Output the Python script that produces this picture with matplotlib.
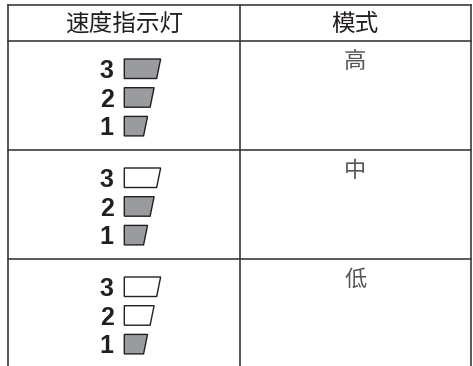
import matplotlib
matplotlib.use("Agg")
import matplotlib.pyplot as plt
from matplotlib.patches import Polygon

# ---- data ----
headers = ["速度指示灯", "模式"]
modes = ["高", "中", "低"]
speed_levels = [3, 2, 1]
# lit state of indicators (for speed levels 3, 2, 1) per mode
lit = [
    [1, 1, 1],
    [0, 1, 1],
    [0, 0, 1],
]

W, H = 473, 366
fig = plt.figure(figsize=(W / 100, H / 100), dpi=100)
ax = fig.add_axes([0, 0, 1, 1])
ax.set_xlim(0, W)
ax.set_ylim(H, 0)
ax.axis("off")

line_c = "#3c3c3c"
lw = 1.2
x_left, x_mid, x_right = 8, 239.5, 471
y_top, y_head = 5, 41
row_h = 109

# grid lines
ax.plot([x_left, x_right], [y_top, y_top], color=line_c, lw=lw)
ax.plot([x_left, x_right], [y_head, y_head], color=line_c, lw=lw)
for i in range(1, len(modes)):
    y = y_head + i * row_h
    ax.plot([x_left, x_right], [y, y], color=line_c, lw=lw)
for x in (x_left, x_mid, x_right):
    ax.plot([x, x], [y_top, H], color=line_c, lw=lw)

cjk = ["Noto Sans CJK SC", "DejaVu Sans"]
# headers
ax.text((x_left + x_mid) / 2, (y_top + y_head) / 2 + 1, headers[0], family=cjk,
        fontsize=17, ha="center", va="center", color="#231f20")
ax.text((x_mid + x_right) / 2, (y_top + y_head) / 2 + 1, headers[1], family=cjk,
        fontsize=17, ha="center", va="center", color="#231f20")

bar_left = 124.3
bar_h = 19.5
spacing = 28.7
for r, mode in enumerate(modes):
    row_top = y_head + r * row_h
    ax.text((x_mid + x_right) / 2, row_top + 20.5, mode, family=cjk,
            fontsize=16, fontweight="light", ha="center", va="center",
            color="#555555")
    for k, lvl in enumerate(speed_levels):
        top = row_top + 18 + k * spacing
        bot = top + bar_h
        wtop = 16.7 + 6.55 * lvl
        inset = 4
        pts = [(bar_left, top), (bar_left + wtop, top),
               (bar_left + wtop - inset, bot), (bar_left, bot)]
        fc = "#9a9b9e" if lit[r][k] else "white"
        ax.add_patch(Polygon(pts, closed=True, facecolor=fc,
                             edgecolor="#231f20", lw=1.0, joinstyle="miter"))
        ax.text(113.5, bot - 0.5, str(lvl), family="Liberation Sans",
                fontweight="bold", fontsize=18, ha="right", va="baseline",
                color="#231f20")

fig.savefig("out.png", dpi=100)
